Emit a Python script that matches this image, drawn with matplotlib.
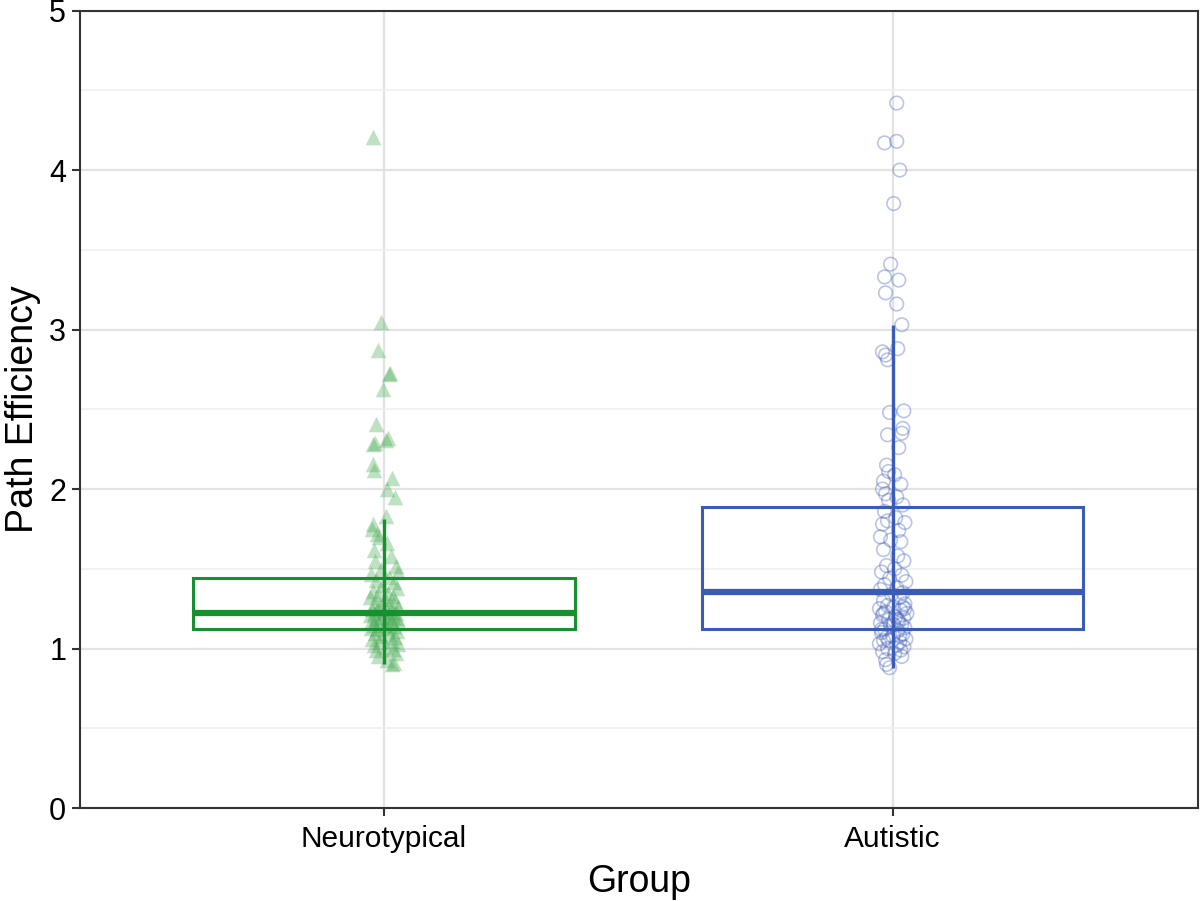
import matplotlib
matplotlib.use('Agg')
import matplotlib.pyplot as plt
from matplotlib.ticker import MultipleLocator

plt.rcParams['font.family'] = ['Liberation Sans', 'DejaVu Sans']

groups = ['Neurotypical', 'Autistic']

# box summary
q1 = [1.12, 1.12]
median = [1.22, 1.355]
q3 = [1.44, 1.885]
whisker_lo = [0.90, 0.88]
whisker_hi = [1.81, 3.03]

# neurotypical points (value, horizontal jitter)
nt_values = [4.21, 3.05, 2.87, 2.73, 2.72, 2.63, 2.41, 2.32, 2.31, 2.29,
             2.28, 2.16, 2.12, 2.07, 2.00, 1.95, 1.83, 1.78, 1.75, 1.72,
             1.70, 1.66, 1.62, 1.58, 1.55, 1.52, 1.50, 1.48, 1.47, 1.45,
             1.43, 1.42, 1.40, 1.38, 1.36, 1.35, 1.34, 1.33, 1.32, 1.31,
             1.30, 1.29, 1.28, 1.27, 1.26, 1.25, 1.25, 1.24, 1.23, 1.23,
             1.22, 1.22, 1.21, 1.21, 1.20, 1.20, 1.19, 1.19, 1.18, 1.18,
             1.17, 1.17, 1.16, 1.15, 1.15, 1.14, 1.13, 1.13, 1.12, 1.11,
             1.10, 1.09, 1.08, 1.07, 1.06, 1.05, 1.04, 1.03, 1.02, 1.01,
             1.00, 0.99, 0.97, 0.95, 0.93, 0.91, 0.90]
nt_jitter = [-0.022, -0.006, -0.012, 0.012, 0.010, -0.002, -0.016, 0.008, 0.004, -0.018,
             -0.022, -0.022, -0.020, 0.016, 0.006, 0.022, 0.004, -0.022, -0.024, -0.014,
             -0.010, 0.006, -0.020, 0.014, -0.018, 0.024, -0.006, 0.028, -0.026, 0.010,
             -0.016, 0.020, -0.004, 0.026, -0.022, 0.008, -0.012, 0.018, -0.028, 0.002,
             0.022, -0.018, 0.012, -0.008, 0.028, -0.024, 0.004, -0.014, 0.016, -0.002,
             0.024, -0.020, 0.010, -0.028, 0.018, -0.006, 0.026, -0.016, 0.006, -0.024,
             0.014, -0.010, 0.030, -0.020, 0.002, 0.020, -0.026, 0.008, -0.014, 0.026,
             -0.018, 0.012, -0.006, 0.022, -0.024, 0.016, -0.010, 0.028, -0.020, 0.004,
             0.018, -0.016, 0.024, -0.012, 0.006, 0.020, 0.016]

# autistic points
aut_values = [4.42, 4.18, 4.17, 4.00, 3.79, 3.41, 3.33, 3.31, 3.23, 3.16,
              3.03, 2.88, 2.86, 2.84, 2.81, 2.49, 2.48, 2.38, 2.35, 2.34,
              2.26, 2.15, 2.11, 2.09, 2.05, 2.03, 2.00, 1.97, 1.95, 1.93,
              1.90, 1.86, 1.82, 1.80, 1.79, 1.78, 1.74, 1.70, 1.68, 1.67,
              1.62, 1.58, 1.55, 1.52, 1.50, 1.48, 1.46, 1.44, 1.42, 1.40,
              1.38, 1.37, 1.35, 1.34, 1.32, 1.30, 1.28, 1.27, 1.26, 1.25,
              1.24, 1.23, 1.22, 1.21, 1.20, 1.19, 1.18, 1.17, 1.16, 1.15,
              1.14, 1.13, 1.12, 1.11, 1.10, 1.09, 1.08, 1.07, 1.06, 1.05,
              1.04, 1.03, 1.02, 1.01, 1.00, 0.99, 0.98, 0.97, 0.95, 0.93,
              0.90, 0.88, 1.26, 1.22, 1.18, 1.12, 1.08, 1.25, 1.05, 1.15]
aut_jitter = [0.008, 0.008, -0.016, 0.014, 0.002, -0.004, -0.016, 0.012, -0.014, 0.008,
              0.018, 0.010, -0.020, -0.014, -0.010, 0.022, -0.006, 0.020, 0.018, -0.010,
              0.012, -0.012, -0.008, 0.004, -0.018, 0.016, -0.020, -0.014, 0.008, -0.008,
              0.020, -0.016, 0.006, -0.010, 0.024, -0.020, 0.012, -0.024, -0.004, 0.016,
              -0.018, 0.010, 0.022, -0.012, 0.004, -0.022, 0.018, -0.006, 0.026, -0.016,
              0.008, -0.024, 0.020, -0.002, 0.014, -0.018, 0.024, -0.010, 0.002, -0.026,
              0.016, -0.014, 0.028, -0.020, 0.006, 0.022, -0.008, 0.012, -0.024, 0.018,
              -0.004, 0.024, -0.016, 0.010, -0.022, 0.020, 0.000, -0.012, 0.026, -0.018,
              0.014, -0.026, 0.008, 0.022, -0.010, 0.016, -0.020, 0.004, 0.018, -0.014,
              -0.012, -0.006, 0.020, -0.018, 0.010, -0.022, 0.014, 0.024, -0.008, 0.002]

green = '#17902f'
blue = '#3a5bb8'
colors = [green, blue]
pos = [1, 2]

fig = plt.figure(figsize=(12, 9.01), dpi=100)
ax = fig.add_axes([0.0667, 0.1032, 0.9316, 0.8851])

# grid
ax.yaxis.set_major_locator(MultipleLocator(1))
ax.yaxis.set_minor_locator(MultipleLocator(0.5))
ax.grid(True, which='major', axis='both', color='#e3e3e3', lw=1.6, zorder=0)
ax.grid(True, which='minor', axis='y', color='#f0f0f0', lw=1.2, zorder=0)

# points
ax.scatter([pos[0] + d for d in nt_jitter], nt_values, marker='^', s=125,
           color='#45a952', alpha=0.35, linewidths=0, zorder=2)
ax.scatter([pos[1] + d for d in aut_jitter], aut_values, marker='o', s=95,
           facecolors='none', edgecolors=blue, alpha=0.35, linewidths=1.2, zorder=2)

# boxes
for i in range(2):
    ax.bar(pos[i], q3[i] - q1[i], bottom=q1[i], width=0.75, fill=False,
           edgecolor=colors[i], linewidth=2.2, zorder=3)
    ax.vlines(pos[i], whisker_lo[i], whisker_hi[i], color=colors[i], lw=2.4, zorder=3)
    ax.hlines(median[i], pos[i] - 0.375, pos[i] + 0.375, color=colors[i], lw=4.5, zorder=4)

ax.set_xlim(0.403, 2.6)
ax.set_ylim(0, 5)
ax.set_xticks(pos)
ax.set_xticklabels(groups)
ax.tick_params(axis='x', labelsize=21.5, length=6, width=1.5, color='#333333', pad=6)
ax.tick_params(axis='y', labelsize=22, length=6, width=1.5, color='#333333', pad=4)
ax.tick_params(which='minor', length=0)
for s in ax.spines.values():
    s.set_color('#333333')
    s.set_linewidth(1.5)

ax.set_xlabel('Group', fontsize=27, labelpad=8)
ax.set_ylabel('Path Efficiency', fontsize=27, labelpad=6)

fig.savefig('out.png', dpi=100)
